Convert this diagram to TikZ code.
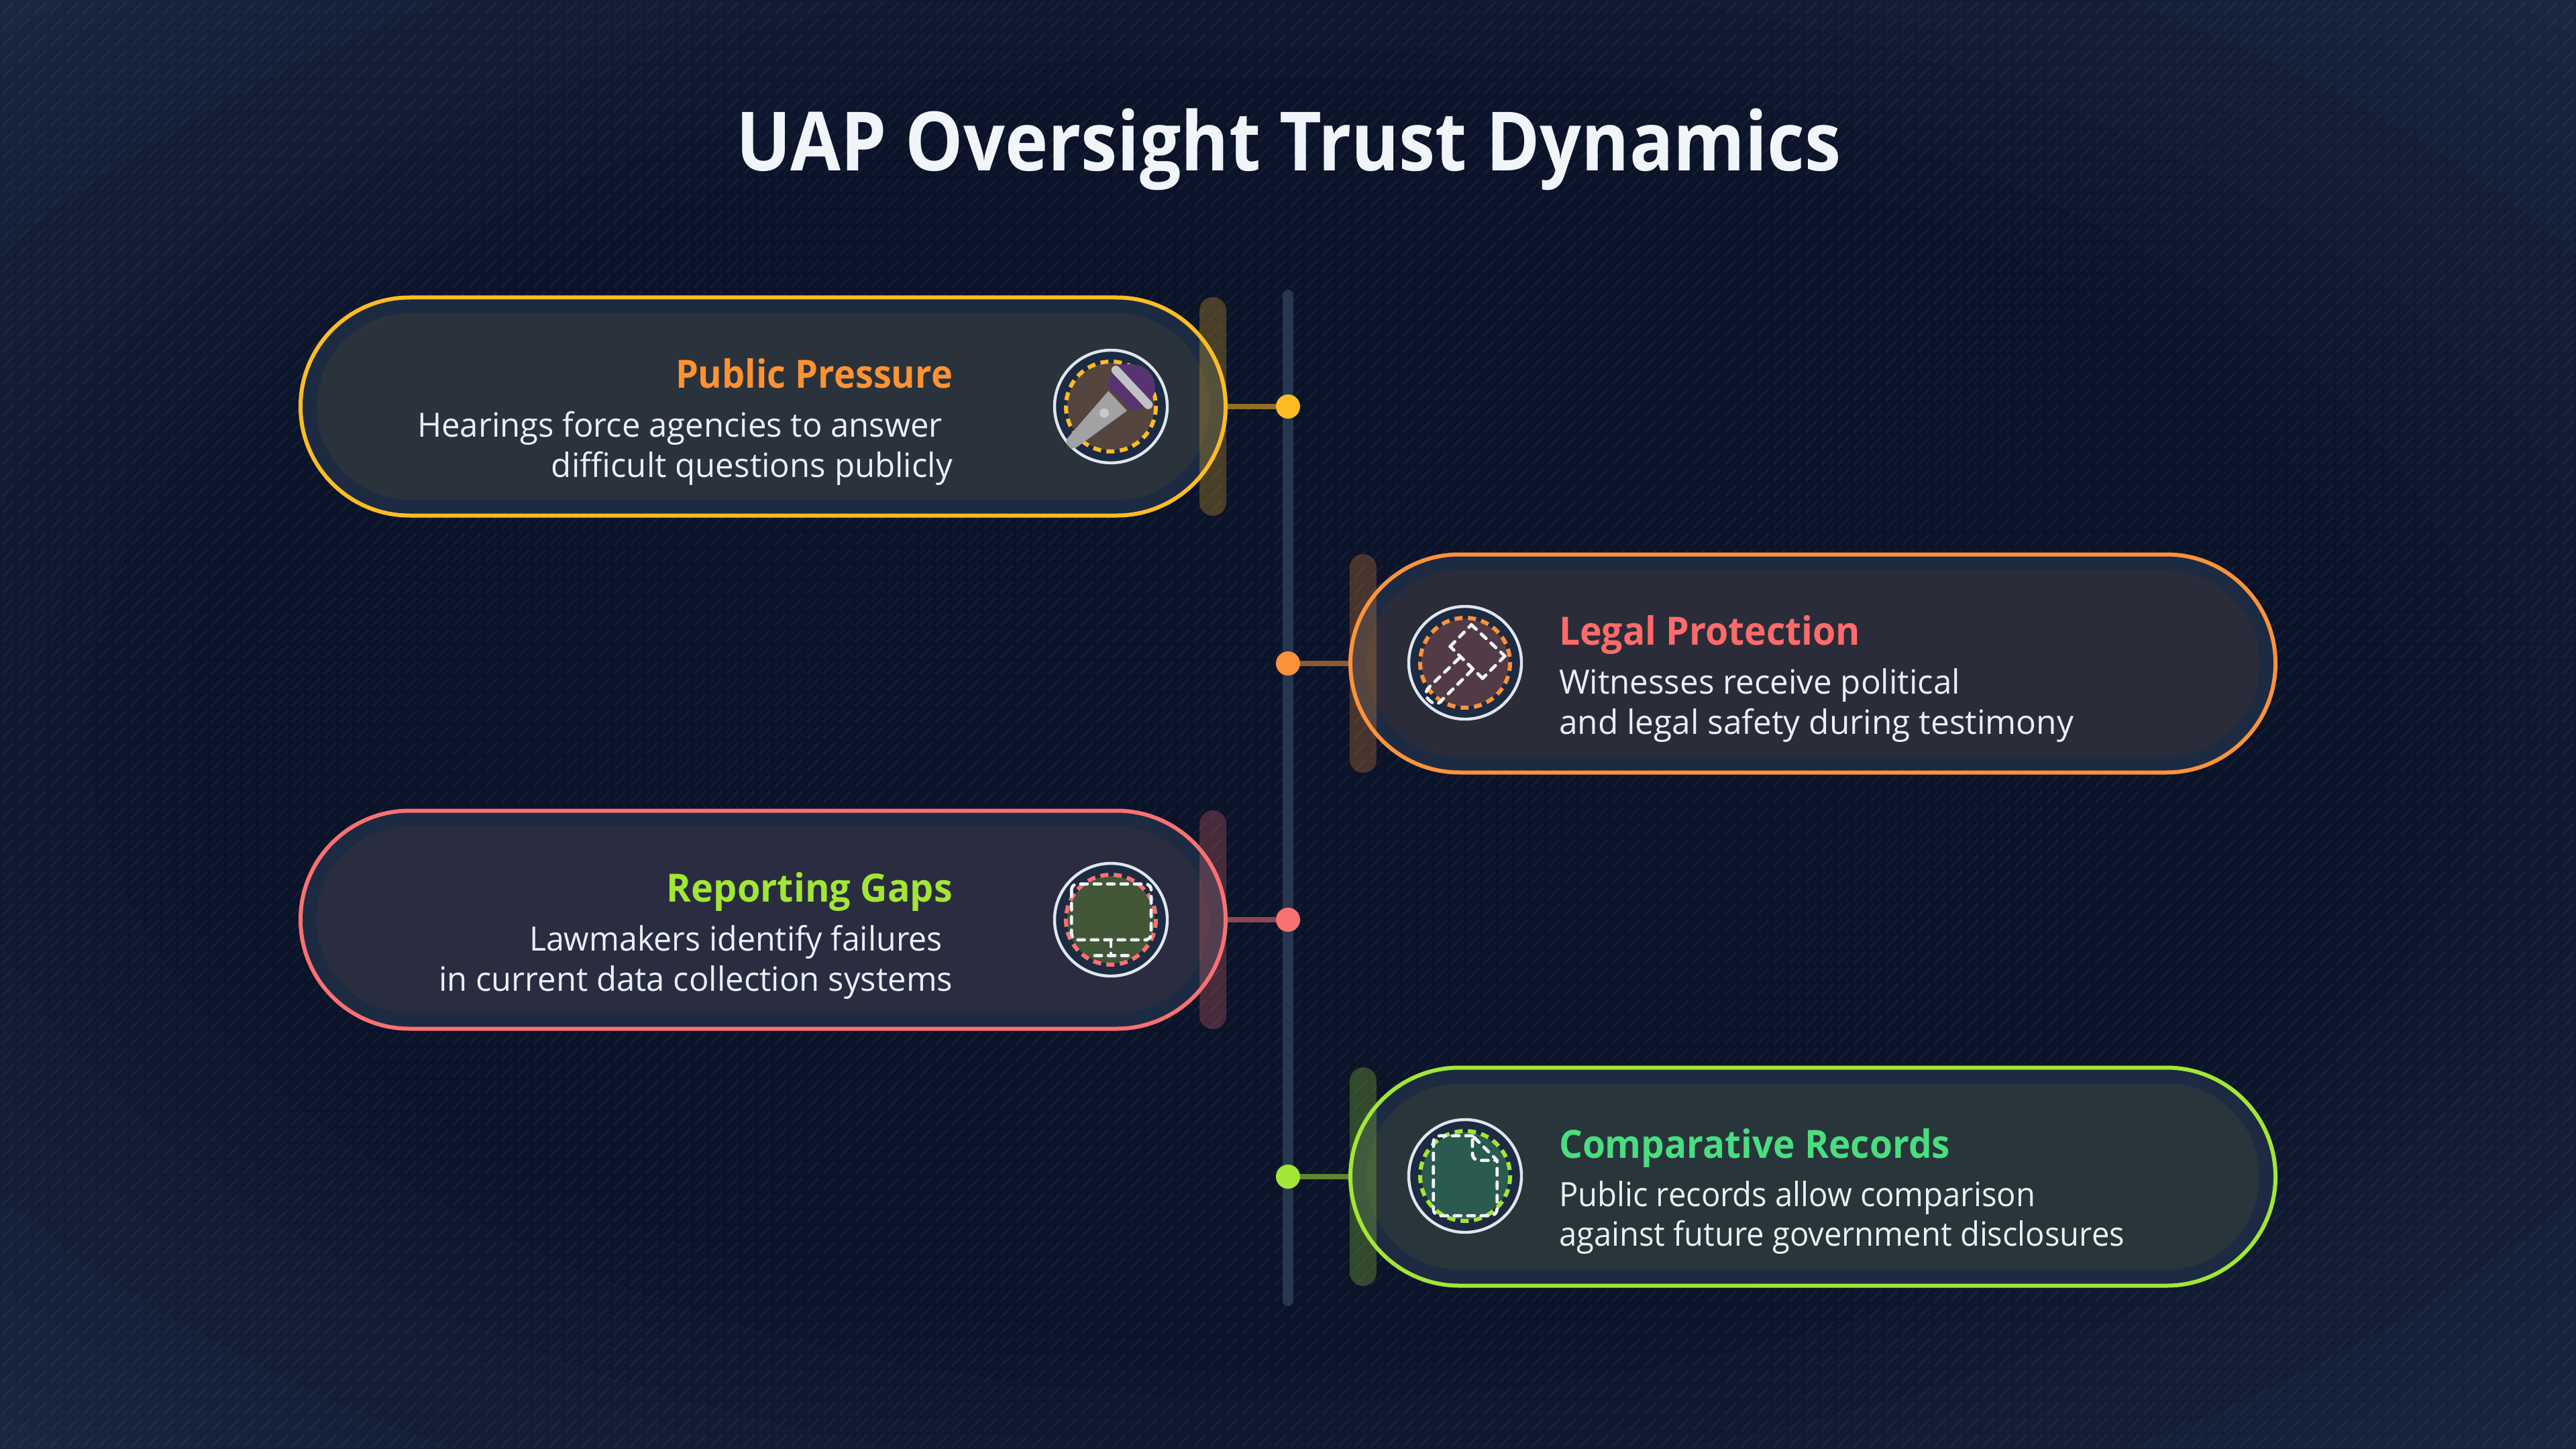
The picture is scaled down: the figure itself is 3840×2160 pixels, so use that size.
\documentclass[tikz,border=0pt]{standalone}
\usepackage{fontspec}
\usepackage{graphicx}
\setmainfont{Open Sans}
\definecolor{bgin}{HTML}{0B1329}
\definecolor{bgout}{HTML}{1A273F}
\definecolor{ringc}{HTML}{1C2B42}
\definecolor{axisc}{HTML}{27364F}
\definecolor{amberc}{HTML}{FBBC24}
\definecolor{orangec}{HTML}{FB923C}
\definecolor{redc}{HTML}{F87171}
\definecolor{limec}{HTML}{A3E635}
\definecolor{greenc}{HTML}{4ADE80}
\definecolor{headorange}{HTML}{FF9233}
\definecolor{headred}{HTML}{FF6B6B}
\definecolor{headlime}{HTML}{A3E635}
\definecolor{titlec}{HTML}{F1F5F9}
\definecolor{bodyc}{HTML}{EAF0F7}
\definecolor{iconw}{HTML}{F1F5F9}
\definecolor{ringw}{HTML}{DFE6EF}
\definecolor{patc}{HTML}{94A3B8}
\definecolor{ia}{HTML}{2A333B}
\definecolor{ib}{HTML}{2A2D39}
\definecolor{ic}{HTML}{2A2D3F}
\definecolor{id}{HTML}{28353B}
\definecolor{da}{HTML}{54453F}
\definecolor{db}{HTML}{533A47}
\definecolor{dc}{HTML}{425638}
\definecolor{dd}{HTML}{2B5A50}
\definecolor{micp}{HTML}{57346F}
\definecolor{micr}{HTML}{C2C2C6}
\definecolor{micb}{HTML}{A2A2A4}
\definecolor{micd}{HTML}{C9C9CB}
\newcommand{\fitw}[2]{\resizebox{\dimexpr #1pt/4\relax}{\height}{#2}}
\newcommand{\iconbase}[5]{% name,x,y,color,disc
  \node[ringnode] (#1) at (#2,#3) {};
  \fill[color=#5] (#2,#3) circle[radius=65];
  \draw[color=#4, line width=1.5pt, dash pattern=on 3pt off 2pt] (#2,#3) circle[radius=67];
}
\tikzset{
  x=0.25pt,y=-0.25pt,
  pill/.style={draw=#1, line width=1.5pt, fill=ringc, rounded corners=40.6pt, minimum width=344.75pt, minimum height=81.25pt, outer sep=0pt, inner sep=0pt},
  innerpill/.style={rounded corners=34.7pt, minimum width=332.75pt, minimum height=69.5pt, inner sep=0pt, outer sep=0pt},
  barstyle/.style={line width=10pt, line cap=round, opacity=.26, color=#1},
  link/.style={line width=2pt, opacity=.55, color=#1},
  dotn/.style={circle, fill=#1, minimum size=9pt, inner sep=0pt, outer sep=0pt},
  ringnode/.style={circle, draw=ringw, line width=1.1pt, fill=ringc, minimum size=42pt, inner sep=0pt, outer sep=0pt},
  idash/.style={draw=iconw, line width=1.2pt, line cap=round, line join=round, dash pattern=on 2.5pt off 2.5pt},
  ttl/.style={inner sep=0pt, outer sep=0pt, font=\fontsize{14.5}{17}\selectfont\bfseries},
  bdy/.style={inner sep=0pt, outer sep=0pt, text=bodyc, font=\fontsize{12.5}{15}\selectfont},
}
\begin{document}
\begin{tikzpicture}
\useasboundingbox (0,0) rectangle (3840,2160);
\begin{scope}
\clip (0,0) rectangle (3840,2160);
\fill[color=bgout] (0,0) rectangle (3840,2160);
\foreach \i in {1,...,16}{
  \pgfmathsetmacro\fc{1-(\i-1)/16*.42}
  \pgfmathsetmacro\pc{\i/16*100}
  \fill[color=bgin!\pc!bgout] (1920,1080) ellipse[x radius=\fc*2715, y radius=\fc*1527];
}
\end{scope}
\foreach \r in {0,...,89}{
  \draw[color=patc, opacity=.075, line width=.7pt]
    \foreach \c in {0,...,159}{
      (\c*24+3,\r*24+21) -- (\c*24+21,\r*24+3)
    };
  \draw[color=patc, opacity=.03, line width=.5pt]
    \foreach \c in {0,...,159}{
      (\c*24+2,\r*24+10) -- (\c*24+10,\r*24+2)
      (\c*24+14,\r*24+22) -- (\c*24+22,\r*24+14)
    };
}
\node[inner sep=0pt, outer sep=0pt, text=titlec, font=\fontsize{30.5}{35}\selectfont\bfseries, anchor=base] (title) at (1921,255) {\fitw{1648}{UAP Oversight Trust Dynamics}};

\coordinate (axtop) at (1920,440);
\coordinate (axbot) at (1920,1939);
\draw[color=axisc, line width=4pt, line cap=round] (axtop) -- (axbot);

% ---- pill 1
\node[pill=amberc] (p1) at (1137.5,606) {};
\node[innerpill, fill=ia] (i1) at (1137.5,606) {};
\draw[barstyle=amberc] (1808,463) -- (1808,749);
\node[dotn=amberc] (d1) at (1920,606) {};
\draw[link=amberc] (p1.east) -- (d1.west);
\iconbase{c1}{1656}{606}{amberc}{da}
\begin{scope}[shift={(1656,606)}]
  \fill[color=micp] (-4.3,-29.3) .. controls (-2,-45) and (3,-62) .. (14,-62.7) .. controls (25,-64) and (35,-63) .. (44,-61) .. controls (58,-55) and (66,-42) .. (65.7,-29.3) .. controls (66,-22) and (64,-17) .. (60.7,-12.7) .. controls (55,-4) and (45,3) .. (34,7.3) -- cycle;
  \draw[color=micr, line width=3.3pt, line cap=round] (7.3,-54.3) -- (55.7,-2.7);
  \fill[color=micb] (-3.7,-23.3) -- (24,6.3) -- (-50,60) .. controls (-57,65) and (-62,62) .. (-65,57) .. controls (-68,52) and (-66,48) .. (-62,44) -- cycle;
  \fill[color=micd] (-10,9.7) circle[radius=7];
\end{scope}
\node[ttl, text=headorange, anchor=base east] (h1) at (1420,579) {\fitw{413}{Public Pressure}};
\node[bdy, anchor=base east] (a1) at (1405,652) {\fitw{783}{Hearings force agencies to answer}};
\node[bdy, anchor=base east] (b1) at (1420,712) {\fitw{598}{difficult questions publicly}};

% ---- pill 2
\node[pill=orangec] (p2) at (2702.5,989) {};
\node[innerpill, fill=ib] (i2) at (2702.5,989) {};
\draw[barstyle=orangec] (2032,846) -- (2032,1132);
\node[dotn=orangec] (d2) at (1920,989) {};
\draw[link=orangec] (p2.west) -- (d2.east);
\iconbase{c2}{2184}{988}{orangec}{db}
\begin{scope}[shift={(2184,988)}]
  \draw[idash] (9.3,-56.7) -- (59.3,-10);
  \draw[idash] (59.3,-10) -- (26,23.3);
  \draw[idash] (26,23.3) -- (-22.3,-24.3);
  \draw[idash] (-22.3,-24.3) -- (9.3,-56.7);
  \draw[idash] (-9,-6.7) -- (-49,31.7) .. controls (-56,38) and (-62,46) .. (-56,53) .. controls (-52,58) and (-44,65) .. (-37.3,58.3) -- (12.7,8.3);
\end{scope}
\node[ttl, text=headred, anchor=base west] (h2) at (2324,961) {\fitw{449}{Legal Protection}};
\node[bdy, anchor=base west] (a2) at (2324,1034) {\fitw{598}{Witnesses receive political}};
\node[bdy, anchor=base west] (b2) at (2324,1094) {\fitw{767}{and legal safety during testimony}};

% ---- pill 3
\node[pill=redc] (p3) at (1137.5,1371) {};
\node[innerpill, fill=ic] (i3) at (1137.5,1371) {};
\draw[barstyle=redc] (1808,1228) -- (1808,1514);
\node[dotn=redc] (d3) at (1920,1371) {};
\draw[link=redc] (p3.east) -- (d3.west);
\iconbase{c3}{1656}{1371}{redc}{dc}
\begin{scope}[shift={(1656,1371)}]
  \draw[idash, rounded corners=2.2pt] (-58.7,-53.3) rectangle (60,30);
  \draw[idash] (0,30) -- (0,52.7);
  \draw[idash] (-24,53.3) -- (25.7,53.3);
\end{scope}
\node[ttl, text=headlime, anchor=base east] (h3) at (1420,1344) {\fitw{426}{Reporting Gaps}};
\node[bdy, anchor=base east] (a3) at (1405,1417) {\fitw{616}{Lawmakers identify failures}};
\node[bdy, anchor=base east] (b3) at (1420,1477) {\fitw{766}{in current data collection systems}};

% ---- pill 4
\node[pill=limec] (p4) at (2702.5,1754) {};
\node[innerpill, fill=id] (i4) at (2702.5,1754) {};
\draw[barstyle=limec] (2032,1611) -- (2032,1897);
\node[dotn=limec] (d4) at (1920,1754) {};
\draw[link=limec] (p4.west) -- (d4.east);
\iconbase{c4}{2184}{1753}{limec}{dd}
\begin{scope}[shift={(2184,1753)}]
  \draw[idash] (11,-60) -- (-37,-60) .. controls (-43,-60) and (-47.3,-56) .. (-47.3,-50) -- (-47.3,49) .. controls (-47.3,55) and (-43,59.3) .. (-37,59.3) -- (37.7,59.3) .. controls (43,59.3) and (47.7,55) .. (47.7,49) -- (47.7,-23.3) -- (11,-60) -- (11,-33) .. controls (11,-27) and (15,-23.3) .. (21,-23.3) -- (47.7,-23.3);
\end{scope}
\node[ttl, text=greenc, anchor=base west] (h4) at (2324,1726) {\fitw{583}{Comparative Records}};
\node[bdy, anchor=base west] (a4) at (2324,1798) {\fitw{710}{Public records allow comparison}};
\node[bdy, anchor=base west] (b4) at (2324,1857) {\fitw{843}{against future government disclosures}};
\end{tikzpicture}
\end{document}
